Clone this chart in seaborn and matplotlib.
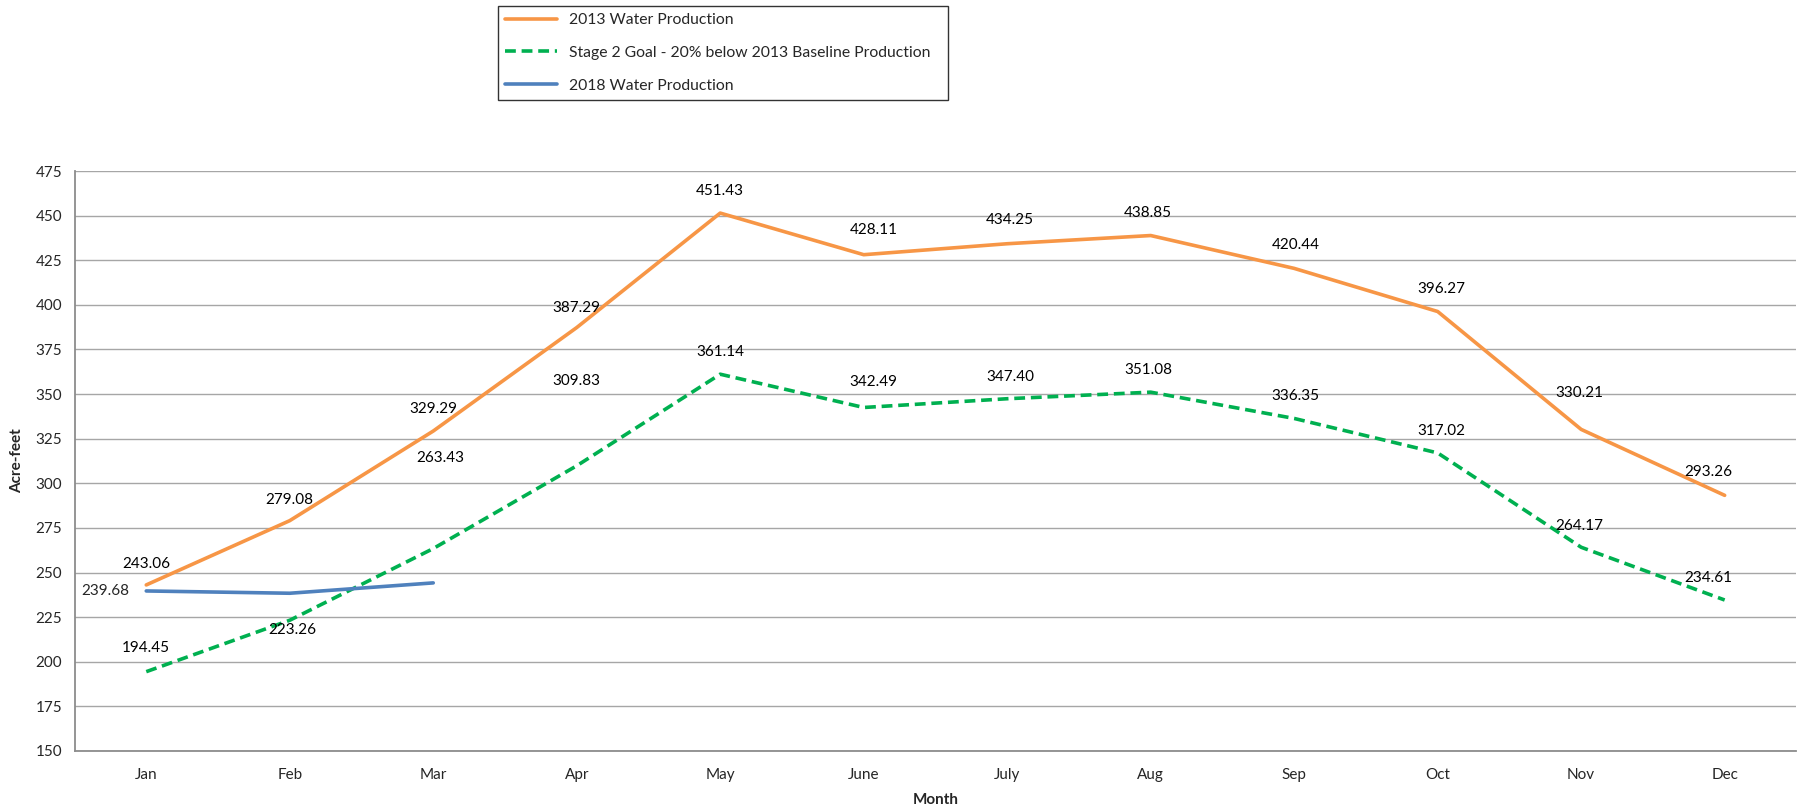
import numpy as np
import pandas as pd
import matplotlib
matplotlib.use("Agg")
import matplotlib.pyplot as plt
import seaborn as sns

# ── DATA ─────────────────────────────────────────────────────
months = ["Jan", "Feb", "Mar", "Apr", "May", "June",
          "July", "Aug", "Sep", "Oct", "Nov", "Dec"]
prod_2013 = [243.06, 279.08, 329.29, 387.29, 451.43, 428.11,
             434.25, 438.85, 420.44, 396.27, 330.21, 293.26]
goal_stage2 = [194.45, 223.26, 263.43, 309.83, 361.14, 342.49,
               347.40, 351.08, 336.35, 317.02, 264.17, 234.61]
prod_2018 = [239.68, 238.4, 244.2]

name_2013 = "2013 Water Production"
name_goal = "Stage 2 Goal - 20% below 2013 Baseline Production"
name_2018 = "2018 Water Production"

# label offsets (points) - style only
off_2013 = [(0, 15), (0, 15), (0, 16), (0, 14), (0, 16), (7, 18),
            (2, 17), (-2, 16), (1, 17), (3, 16), (-1, 26), (-12, 17)]
off_goal = [(0, 17), (2, -7), (5, 65), (0, 61), (0, 16), (7, 18),
            (2, 16), (-2, 16), (1, 16), (3, 16), (-1, 15), (-12, 16)]

c_2013 = "#F79646"
c_goal = "#00B050"
c_2018 = "#4F81BD"
fs = 11

# ── PLOT ─────────────────────────────────────────────────────
sns.set_style("white")
plt.rcParams["font.family"] = ["Lato", "DejaVu Sans"]

fig = plt.figure(figsize=(18, 8.09), dpi=100)
ax = fig.add_axes([0.0414, 0.0717, 0.9566, 0.7169])

df13 = pd.DataFrame({"x": np.arange(len(months)), "y": prod_2013})
dfg = pd.DataFrame({"x": np.arange(len(months)), "y": goal_stage2})
df18 = pd.DataFrame({"x": np.arange(len(prod_2018)), "y": prod_2018})

sns.lineplot(data=df13, x="x", y="y", ax=ax, color=c_2013, lw=2.6, label=name_2013)
sns.lineplot(data=dfg, x="x", y="y", ax=ax, color=c_goal, lw=2.6,
             linestyle=(0, (3, 1.6)), label=name_goal)
sns.lineplot(data=df18, x="x", y="y", ax=ax, color=c_2018, lw=2.6, label=name_2018)

for i, v in enumerate(prod_2013):
    ax.annotate(f"{v:.2f}", (i, v), xytext=off_2013[i], textcoords="offset points",
                ha="center", va="center", fontsize=fs, color="#000000")
for i, v in enumerate(goal_stage2):
    ax.annotate(f"{v:.2f}", (i, v), xytext=off_goal[i], textcoords="offset points",
                ha="center", va="center", fontsize=fs, color="#000000")
ax.annotate(f"{prod_2018[0]:.2f}", (0, prod_2018[0]), xytext=(-12, 0),
            textcoords="offset points", ha="right", va="center", fontsize=fs)

ax.set_xlim(-0.5, len(months) - 0.5)
ax.set_ylim(150, 475)
ax.set_yticks(np.arange(150, 476, 25))
ax.set_xticks(np.arange(len(months)))
ax.set_xticklabels(months)
ax.tick_params(axis="x", labelsize=fs, length=0, pad=12)
ax.tick_params(axis="y", labelsize=fs, length=0, pad=9)
ax.grid(axis="y", color="#A6A6A6", lw=1)
ax.set_axisbelow(True)
for s in ["top", "right"]:
    ax.spines[s].set_visible(False)
for s in ["left", "bottom"]:
    ax.spines[s].set_color("#8C8C8C")
    ax.spines[s].set_linewidth(1.3)

ax.set_xlabel("Month", fontsize=fs, fontweight="bold", labelpad=8)
ax.set_ylabel("Acre-feet", fontsize=fs, fontweight="bold", labelpad=8)

ax.get_legend().remove()
h, l = ax.get_legend_handles_labels()
leg = fig.legend(h, l, loc="upper left", bbox_to_anchor=(0.2767, 0.8776, 0.25, 0.115),
                 mode="expand", fontsize=11.3, frameon=True, fancybox=False,
                 edgecolor="#000000", labelspacing=1.2, handlelength=3.3,
                 borderaxespad=0, borderpad=0.45)
leg.get_frame().set_linewidth(1.0)

plt.savefig("out.png", dpi=100)
